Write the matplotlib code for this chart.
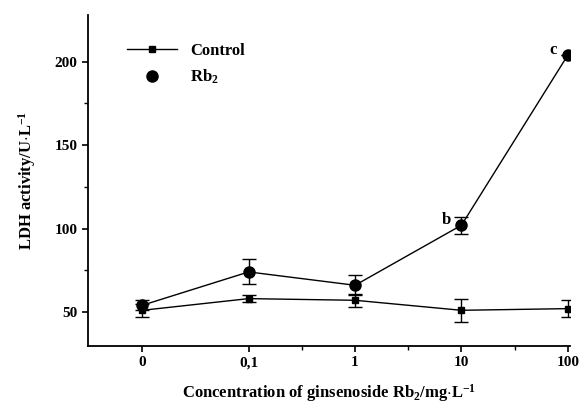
import numpy as np
import matplotlib.pyplot as plt
from matplotlib import rcParams
from matplotlib.lines import Line2D
rcParams['font.family'] = 'serif'
rcParams['font.serif'] = ['Liberation Serif', 'DejaVu Serif']
rcParams['mathtext.fontset'] = 'custom'
rcParams['mathtext.rm'] = 'Liberation Serif:bold'
rcParams['mathtext.bf'] = 'Liberation Serif:bold'
rcParams['mathtext.default'] = 'bf'

conc = ['0', '0,1', '1', '10', '100']
control = [51, 58, 57, 51, 52]
control_err = [4, 2, 4, 7, 5]
rb2 = [54, 74, 66, 102, 204]
rb2_err = [3, 7.5, 6, 5, 0]
letters = {3: 'b', 4: 'c'}

x = np.arange(len(conc))

fig = plt.figure(figsize=(5.87, 4.15), dpi=100)
ax = fig.add_axes([88/587, 1-346/415, (570-88)/587, (346-15)/415])

# control series
ax.errorbar(x, control, yerr=control_err, color='black', marker='s', ms=4,
            lw=1, capsize=5, elinewidth=1)
# Rb2 series
ax.errorbar(x, rb2, yerr=rb2_err, color='black', marker='o', ms=8,
            lw=1, capsize=5, elinewidth=1)

for i, t in letters.items():
    ax.text(x[i] - 0.1, rb2[i] + 3, t, ha='right', va='center', fontsize=12, fontweight='bold')

ax.set_xlim(-0.51, 4.02)
ax.set_ylim(29.6, 228)
ax.set_xticks(x)
ax.set_xticklabels(conc, fontsize=11, fontweight='bold')
ax.set_xticks([1.5, 2.5, 3.5], minor=True)
ax.set_yticks([50, 100, 150, 200])
ax.set_yticklabels(['50', '100', '150', '200'], fontsize=11, fontweight='bold')
ax.set_yticks([75, 125, 175], minor=True)
ax.tick_params(direction='out', length=4, width=1.2)
ax.tick_params(which='minor', length=3, width=1)
for s in ['top', 'right']:
    ax.spines[s].set_visible(False)
for s in ['left', 'bottom']:
    ax.spines[s].set_linewidth(1.3)

ax.set_xlabel('Concentration of ginsenoside Rb$_2$/mg$\\cdot$L$^{-1}$', fontsize=12, fontweight='bold', labelpad=9)
ax.set_ylabel('LDH activity/U$\\cdot$L$^{-1}$', fontsize=12, fontweight='bold', labelpad=12)

handles = [Line2D([], [], color='black', marker='s', ms=4, lw=1),
           Line2D([], [], color='black', marker='o', ms=8, lw=0)]
ax.legend(handles, ['Control', 'Rb$_2$'], loc='upper left', bbox_to_anchor=(0.05, 0.96),
          frameon=False, prop={'weight': 'bold', 'size': 12}, handlelength=3)

plt.savefig('out.png', dpi=100)
